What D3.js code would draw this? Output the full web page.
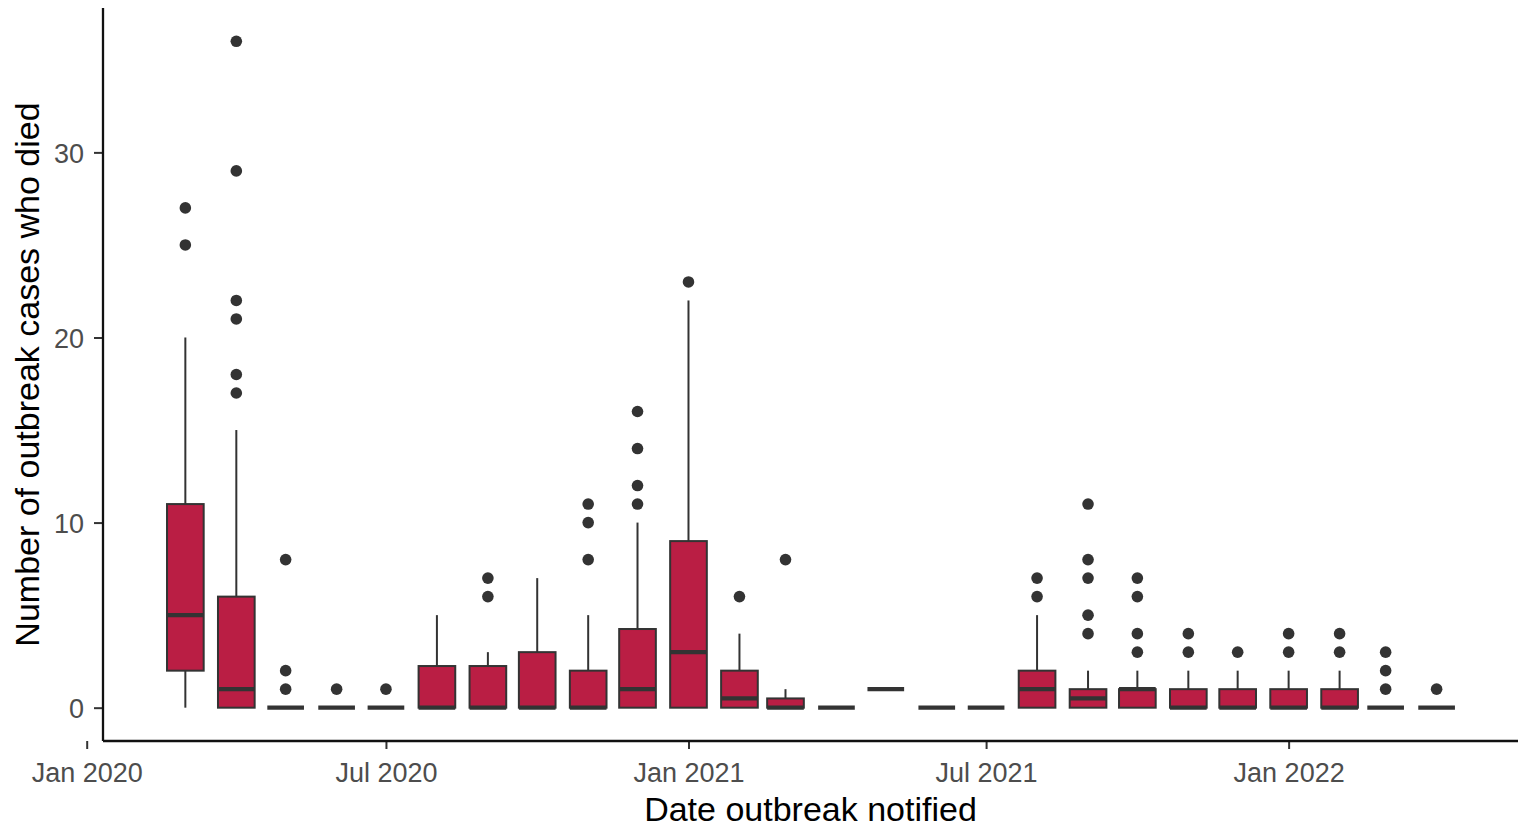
<!DOCTYPE html>
<html>
<head>
<meta charset="utf-8">
<script src="https://cdn.jsdelivr.net/npm/d3@7"></script>
<style>
  body { margin: 0; background: #fff; }
  text { font-family: "Liberation Sans", Arial, sans-serif; }
</style>
</head>
<body>
<div id="vis"></div>
<script>
// monthly boxplots, one per month the outbreak was notified
const months = ['2020-03', '2020-04', '2020-05', '2020-06', '2020-07', '2020-08', '2020-09',
    '2020-10', '2020-11', '2020-12', '2021-01', '2021-02', '2021-03', '2021-04', '2021-05',
    '2021-06', '2021-07', '2021-08', '2021-09', '2021-10', '2021-11', '2021-12', '2022-01',
    '2022-02', '2022-03', '2022-04'];
const q1          = [2, 0, 0, 0, 0, 0, 0, 0, 0, 0, 0, 0, 0, 0, 1, 0, 0, 0, 0, 0, 0, 0, 0, 0, 0, 0];
const median      = [5, 1, 0, 0, 0, 0, 0, 0, 0, 1, 3, 0.5, 0, 0, 1, 0, 0, 1, 0.5, 1, 0, 0, 0, 0, 0, 0];
const q3          = [11, 6, 0, 0, 0, 2.25, 2.25, 3, 2, 4.25, 9, 2, 0.5, 0, 1, 0, 0, 2, 1, 1, 1, 1, 1, 1, 0, 0];
const whiskerLow  = [0, 0, 0, 0, 0, 0, 0, 0, 0, 0, 0, 0, 0, 0, 1, 0, 0, 0, 0, 0, 0, 0, 0, 0, 0, 0];
const whiskerHigh = [20, 15, 0, 0, 0, 5, 3, 7, 5, 10, 22, 4, 1, 0, 1, 0, 0, 5, 2, 2, 2, 2, 2, 2, 0, 0];
const outliers = [
    [25, 27], [17, 18, 21, 22, 29, 36], [1, 2, 8], [1], [1], [], [6, 7], [], [8, 10, 11],
    [11, 12, 14, 16], [23], [6], [8], [], [], [], [], [6, 7], [4, 5, 7, 8, 11], [3, 4, 6, 7],
    [3, 4], [3], [3, 4], [3, 4], [1, 2, 3], [1]
];
const xTicks = ['2020-01', '2020-07', '2021-01', '2021-07', '2022-01'];
const yTicks = [0, 10, 20, 30];

const W = 1522, H = 827;
const panel = { left: 103, right: 1518, top: 8, bottom: 741 };
const boxDays = 22.3;
const fill = '#ba1e44', ink = '#333333';

const parseMonth = d3.utcParse('%Y-%m');
const fmt = d3.utcFormat('%b %Y');

const svg = d3.select('#vis').append('svg')
    .attr('width', W)
    .attr('height', H);

svg.append('rect').attr('width', W).attr('height', H).attr('fill', '#fff');

const xScale = d3.scaleUtc()
    .domain([Date.UTC(2020, 0, 10, 22), Date.UTC(2022, 4, 20, 12)])
    .range([panel.left, panel.right]);

const yScale = d3.scaleLinear()
    .domain([-1.8, 37.8])
    .range([panel.bottom, panel.top]);

const data = months.map((m, i) => ({
    date: parseMonth(m),
    q1: q1[i], med: median[i], q3: q3[i],
    lo: whiskerLow[i], hi: whiskerHigh[i],
    out: outliers[i]
}));

const halfW = d => (xScale(d3.utcDay.offset(d.date, 11)) - xScale(d.date)) * boxDays / 22;

const g = svg.append('g');

// outliers
g.selectAll('.pt')
    .data(data.flatMap(d => d.out.map(v => ({ date: d.date, v }))))
    .join('circle')
    .attr('class', 'pt')
    .attr('cx', d => xScale(d.date))
    .attr('cy', d => yScale(d.v))
    .attr('r', 5.8)
    .attr('fill', ink);

// whiskers
g.selectAll('.whi')
    .data(data.filter(d => d.hi > d.q3))
    .join('line')
    .attr('x1', d => xScale(d.date)).attr('x2', d => xScale(d.date))
    .attr('y1', d => yScale(d.q3)).attr('y2', d => yScale(d.hi))
    .attr('stroke', ink).attr('stroke-width', 2);

g.selectAll('.wlo')
    .data(data.filter(d => d.lo < d.q1))
    .join('line')
    .attr('x1', d => xScale(d.date)).attr('x2', d => xScale(d.date))
    .attr('y1', d => yScale(d.q1)).attr('y2', d => yScale(d.lo))
    .attr('stroke', ink).attr('stroke-width', 2);

// boxes
g.selectAll('.box')
    .data(data)
    .join('rect')
    .attr('class', 'box')
    .attr('x', d => xScale(d.date) - halfW(d))
    .attr('width', d => 2 * halfW(d))
    .attr('y', d => yScale(d.q3))
    .attr('height', d => yScale(d.q1) - yScale(d.q3))
    .attr('fill', fill)
    .attr('stroke', ink)
    .attr('stroke-width', 2);

// medians
g.selectAll('.med')
    .data(data)
    .join('line')
    .attr('x1', d => xScale(d.date) - halfW(d))
    .attr('x2', d => xScale(d.date) + halfW(d))
    .attr('y1', d => yScale(d.med)).attr('y2', d => yScale(d.med))
    .attr('stroke', ink)
    .attr('stroke-width', 4.2);

// axes
const xAxis = svg.append('g')
    .attr('transform', `translate(0,${panel.bottom})`)
    .call(d3.axisBottom(xScale)
        .tickValues(xTicks.map(parseMonth))
        .tickFormat(fmt)
        .tickSize(8)
        .tickPadding(14));
xAxis.select('.domain').remove();
xAxis.selectAll('.tick line').attr('stroke', ink).attr('stroke-width', 2);
xAxis.selectAll('.tick text')
    .attr('fill', '#4d4d4d')
    .style('font-size', '27px');

const yAxis = svg.append('g')
    .attr('transform', `translate(${panel.left},0)`)
    .call(d3.axisLeft(yScale)
        .tickValues(yTicks)
        .tickSize(9)
        .tickPadding(10));
yAxis.select('.domain').remove();
yAxis.selectAll('.tick line').attr('stroke', ink).attr('stroke-width', 2);
yAxis.selectAll('.tick text')
    .attr('fill', '#4d4d4d')
    .attr('dy', '0.38em')
    .style('font-size', '27px');

// axis lines (theme_classic)
svg.append('line')
    .attr('x1', panel.left).attr('x2', panel.right)
    .attr('y1', panel.bottom).attr('y2', panel.bottom)
    .attr('stroke', '#111').attr('stroke-width', 2.3);
svg.append('line')
    .attr('x1', panel.left).attr('x2', panel.left)
    .attr('y1', panel.top).attr('y2', panel.bottom)
    .attr('stroke', '#111').attr('stroke-width', 2.3);

// titles
svg.append('text')
    .attr('x', (panel.left + panel.right) / 2)
    .attr('y', 821)
    .attr('text-anchor', 'middle')
    .style('font-size', '34px')
    .attr('fill', '#000')
    .text('Date outbreak notified');

svg.append('text')
    .attr('transform', `translate(38.5,${(panel.top + panel.bottom) / 2}) rotate(-90)`)
    .attr('text-anchor', 'middle')
    .style('font-size', '34px')
    .attr('fill', '#000')
    .text('Number of outbreak cases who died');
</script>
</body>
</html>
